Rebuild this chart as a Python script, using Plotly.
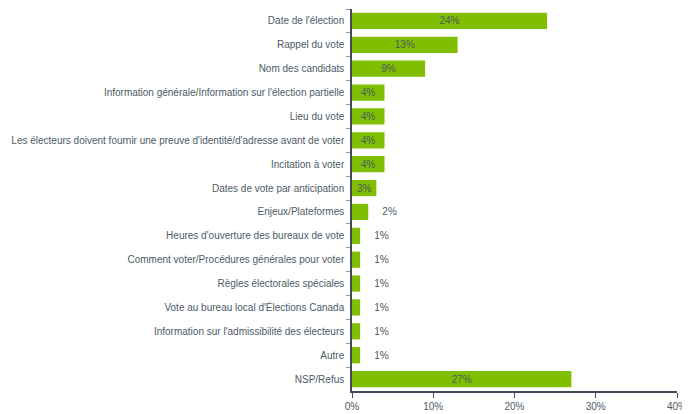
import plotly.graph_objects as go

categories = [
    "Date de l'élection",
    "Rappel du vote",
    "Nom des candidats",
    "Information générale/Information sur l'élection partielle",
    "Lieu du vote",
    "Les électeurs doivent fournir une preuve d'identité/d'adresse avant de voter",
    "Incitation à voter",
    "Dates de vote par anticipation",
    "Enjeux/Plateformes",
    "Heures d'ouverture des bureaux de vote",
    "Comment voter/Procédures générales pour voter",
    "Règles électorales spéciales",
    "Vote au bureau local d'Élections Canada",
    "Information sur l'admissibilité des électeurs",
    "Autre",
    "NSP/Refus",
]
values = [24, 13, 9, 4, 4, 4, 4, 3, 2, 1, 1, 1, 1, 1, 1, 27]
x_ticks = [0, 10, 20, 30, 40]

TEXT = "#4d5a66"
AXIS = "#3f4b56"
positions = ["inside" if v >= 3 else "outside" for v in values]
# petits libellés décalés vers la droite comme dans l'original
labels = [f"{v}%" if v >= 3 else f"    {v}%" for v in values]

fig = go.Figure(
    go.Bar(
        x=values, y=categories, orientation="h",
        marker=dict(color="#7fbf00", line=dict(width=0)),
        text=labels,
        textposition=positions,
        insidetextanchor="middle",
        textfont=dict(color=TEXT, size=10),
        cliponaxis=False,
    )
)
# la page ajoute 8 px de marge au body : la figure commence à (8, 8)
fig.update_layout(
    width=682, height=406,
    margin=dict(l=344, r=13, t=1, b=23),
    plot_bgcolor="white", paper_bgcolor="white",
    font=dict(family="Liberation Sans", size=10, color=TEXT),
    bargap=0.32,
    showlegend=False,
    uniformtext=dict(minsize=10, mode="show"),
)
fig.update_xaxes(
    range=[0, 40], tickvals=x_ticks, ticktext=[f"{t}%" for t in x_ticks],
    showgrid=False, zeroline=False, automargin=False,
    showline=True, linecolor=AXIS, linewidth=1.5,
    ticks="outside", ticklen=5, tickcolor=AXIS,
    tickfont=dict(size=10, color=TEXT),
)
fig.update_yaxes(
    autorange="reversed", showgrid=False, zeroline=False, automargin=False,
    showline=True, linecolor=AXIS, linewidth=1.5,
    ticks="outside", ticklen=4, tickcolor="#8a949c", tickson="boundaries",
    tickfont=dict(size=10, color=TEXT), ticklabelstandoff=4,
)
fig.write_html("out.html")
